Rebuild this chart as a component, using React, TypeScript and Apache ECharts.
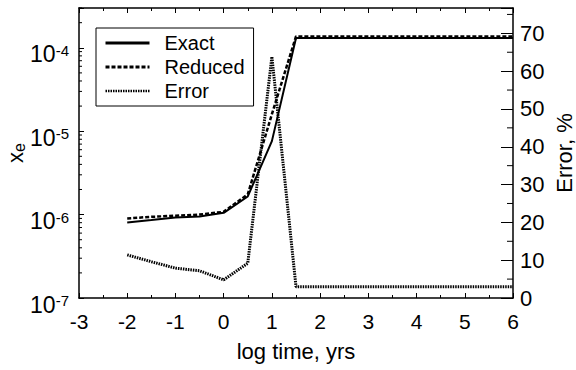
import React, { useEffect, useRef } from "react";
import * as echarts from "echarts";

const FONT = "'Liberation Sans', Arial, Helvetica, sans-serif";

// log10 of time in years
const logTime = [-2, -1.5, -1, -0.5, 0, 0.5, 1, 1.5, 2, 2.5, 3, 3.5, 4, 4.5, 5, 5.5, 6];
// electron fraction x_e
const exactXe = [8.05e-7, 8.6e-7, 9.2e-7, 9.5e-7, 1.05e-6, 1.65e-6, 7.6e-6, 1.31e-4, 1.31e-4, 1.31e-4, 1.31e-4, 1.31e-4, 1.31e-4, 1.31e-4, 1.31e-4, 1.31e-4, 1.31e-4];
const reducedXe = [9.0e-7, 9.4e-7, 9.7e-7, 1.0e-6, 1.08e-6, 1.75e-6, 1.6e-5, 1.37e-4, 1.37e-4, 1.37e-4, 1.37e-4, 1.37e-4, 1.37e-4, 1.37e-4, 1.37e-4, 1.37e-4, 1.37e-4];
// error, %
const errorPct = [11.4, 9.6, 7.9, 7.2, 4.8, 9.2, 63.8, 3.0, 3.0, 3.0, 3.0, 3.0, 3.0, 3.0, 3.0, 3.0, 3.0];

// axis furniture
const leftMinorTicks = [2e-7, 3e-7, 4e-7, 5e-7, 6e-7, 7e-7, 8e-7, 9e-7, 2e-6, 3e-6, 4e-6, 5e-6, 6e-6, 7e-6, 8e-6, 9e-6, 2e-5, 3e-5, 4e-5, 5e-5, 6e-5, 7e-5, 8e-5, 9e-5, 2e-4, 3e-4];
const rightMinorTicks = [5, 15, 25, 35, 45, 55, 65, 75];

export default function App() {
  const ref = useRef<HTMLDivElement>(null);
  useEffect(() => {
    if (!ref.current) return;
    const chart = echarts.init(ref.current, null, { renderer: "svg" });
    const axisLine = { show: true, onZero: false, lineStyle: { color: "#000", width: 1.5 } };
    const txt = { color: "#000", fontFamily: FONT };
    chart.setOption({
      animation: false,
      backgroundColor: "#fff",
      grid: { left: 79, right: 63, top: 8, bottom: 72, containLabel: false, outerBoundsMode: "none" },
      legend: {
        left: 96,
        top: 28,
        orient: "vertical",
        padding: [5, 9, 5, 8],
        itemGap: 4,
        itemWidth: 44,
        itemHeight: 14,
        borderColor: "#000",
        borderWidth: 1,
        backgroundColor: "#fff",
        itemStyle: { opacity: 0 },
        textStyle: { ...txt, fontSize: 20, padding: [0, 0, 0, 10] },
        data: [
          { name: "Exact", lineStyle: { width: 3 } },
          { name: "Reduced", lineStyle: { width: 3 } },
          { name: "Error", lineStyle: { width: 2.5 } },
        ],
      },
      xAxis: [
        {
          type: "value",
          min: -3,
          max: 6,
          interval: 1,
          position: "bottom",
          axisLine,
          axisTick: { show: true, inside: true, length: 5, lineStyle: { color: "#000", width: 1 } },
          minorTick: { show: true, splitNumber: 2, length: 3, lineStyle: { color: "#000", width: 1 } },
          splitLine: { show: false },
          minorSplitLine: { show: false },
          axisLabel: { ...txt, fontSize: 21, margin: 13 },
          name: "log time, yrs",
          nameLocation: "middle",
          nameGap: 42,
          nameMoveOverlap: false,
          nameTextStyle: { ...txt, fontSize: 22 },
        },
        {
          type: "value",
          min: -3,
          max: 6,
          interval: 1,
          position: "top",
          axisLine,
          axisTick: { show: true, inside: true, length: 5, lineStyle: { color: "#000", width: 1 } },
          minorTick: { show: true, splitNumber: 2, length: 3, lineStyle: { color: "#000", width: 1 } },
          splitLine: { show: false },
          axisLabel: { show: false },
        },
      ],
      yAxis: [
        {
          type: "log",
          logBase: 10,
          min: 1e-7,
          max: 3e-4,
          position: "left",
          axisLine,
          axisTick: { show: true, inside: true, length: 5, lineStyle: { color: "#000", width: 1 } },
          minorTick: { show: false },
          splitLine: { show: false },
          axisLabel: {
            margin: 10,
            padding: [13, 0, 0, 0],
            formatter: (v: number) => {
              const e = Math.log10(v);
              const r = Math.round(e);
              if (Math.abs(e - r) > 1e-6) return "";
              return `{b|10}{s|${r}}`;
            },
            rich: {
              b: { ...txt, fontSize: 23, verticalAlign: "bottom" },
              s: { ...txt, fontSize: 15, verticalAlign: "top" },
            },
          },
          name: "{x|x}{e|e}",
          nameLocation: "middle",
          nameGap: 52,
          nameMoveOverlap: false,
          nameRotate: 90,
          nameTextStyle: {
            rich: {
              x: { ...txt, fontSize: 22, verticalAlign: "bottom", padding: [0, 0, 1, 0] },
              e: { ...txt, fontSize: 16, verticalAlign: "bottom" },
            },
          },
        },
        {
          type: "value",
          min: 0,
          max: 76.7,
          interval: 10,
          position: "right",
          axisLine,
          axisTick: { show: true, inside: true, length: 12, lineStyle: { color: "#000", width: 1 } },
          minorTick: { show: false },
          splitLine: { show: false },
          axisLabel: {
            ...txt,
            fontSize: 22,
            margin: 7,
            padding: [13, 0, 0, 0],
            formatter: (v: number) => (Math.abs(v % 10) < 1e-6 ? String(v) : ""),
          },
          name: "Error, %",
          nameLocation: "middle",
          nameGap: 40,
          nameMoveOverlap: false,
          nameRotate: 90,
          nameTextStyle: { ...txt, fontSize: 22 },
        },
      ],
      series: [
        {
          name: "Exact",
          type: "line",
          xAxisIndex: 0,
          yAxisIndex: 0,
          symbol: "none",
          data: logTime.map((t, i) => [t, exactXe[i]]),
          lineStyle: { color: "#000", width: 2, type: "solid" },
          itemStyle: { color: "#000" },
          z: 3,
        },
        {
          name: "Reduced",
          type: "line",
          xAxisIndex: 0,
          yAxisIndex: 0,
          symbol: "none",
          data: logTime.map((t, i) => [t, reducedXe[i]]),
          lineStyle: { color: "#000", width: 2.5, type: [4, 2] },
          itemStyle: { color: "#000" },
          z: 4,
        },
        {
          name: "Error",
          type: "line",
          xAxisIndex: 0,
          yAxisIndex: 1,
          symbol: "none",
          data: logTime.map((t, i) => [t, errorPct[i]]),
          lineStyle: { color: "#000", width: 3, type: [1.5, 1] },
          itemStyle: { color: "#000" },
          z: 2,
        },
        {
          name: "leftMinor",
          type: "custom",
          xAxisIndex: 0,
          yAxisIndex: 0,
          silent: true,
          data: leftMinorTicks.map((v) => [-3, v]),
          encode: { x: 0, y: 1 },
          renderItem: (params: any, api: any) => {
            const cs = params.coordSys;
            const y = api.coord([api.value(0), api.value(1)])[1];
            return {
              type: "line",
              shape: { x1: cs.x, y1: y, x2: cs.x + 3, y2: y },
              style: { stroke: "#000", lineWidth: 1 },
            };
          },
        },
        {
          name: "rightMinor",
          type: "custom",
          xAxisIndex: 0,
          yAxisIndex: 1,
          silent: true,
          data: rightMinorTicks.map((v) => [6, v]),
          encode: { x: 0, y: 1 },
          renderItem: (params: any, api: any) => {
            const cs = params.coordSys;
            const y = api.coord([api.value(0), api.value(1)])[1];
            return {
              type: "line",
              shape: { x1: cs.x + cs.width - 6, y1: y, x2: cs.x + cs.width, y2: y },
              style: { stroke: "#000", lineWidth: 1 },
            };
          },
        },
      ],
    });
    return () => chart.dispose();
  }, []);
  return (
    <div
      ref={ref}
      style={{ width: 576, height: 370, position: "absolute", left: 0, top: 0 }}
    />
  );
}
